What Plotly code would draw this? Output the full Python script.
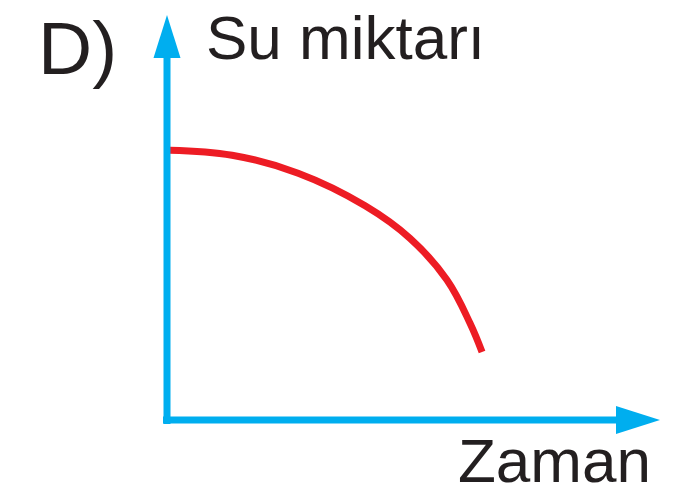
import plotly.graph_objects as go

# water amount over time (arbitrary units)
zaman = [0.09, 2.06, 4.15, 6.27, 7.69, 8.86, 9.59, 9.97]
su_miktari = [8.54, 8.38, 7.81, 6.78, 5.75, 4.43, 3.06, 2.15]

axis_labels = ["Su miktarı", "Zaman"]
panel_label = "D)"

BLUE = "#00aeef"
RED = "#ed1c24"
TEXT = "#231f20"
FONT = "Liberation Sans, Arial, sans-serif"

W, H = 674, 495
PX = 31.6                 # pixels per data unit
X0, Y0 = 167, 420         # pixel position of the origin

fig = go.Figure()

# red curve
fig.add_trace(go.Scatter(
    x=zaman, y=su_miktari,
    mode="lines",
    line=dict(color=RED, width=7, shape="spline", smoothing=1.1),
    hoverinfo="skip",
))

# axes with arrowheads
y_tip, y_base, y_half = (Y0 - 15) / PX, (Y0 - 58) / PX, 13.5 / PX
x_tip, x_base, x_half = (660 - X0) / PX, (616 - X0) / PX, 14 / PX
shapes = [
    dict(type="line", x0=0, x1=0, y0=-4 / PX, y1=y_base + 0.1,
         line=dict(color=BLUE, width=7)),
    dict(type="path",
         path=f"M {-y_half} {y_base} L {y_half} {y_base} L 0 {y_tip} Z",
         fillcolor=BLUE, line=dict(width=0)),
    dict(type="line", x0=-4 / PX, x1=x_base + 0.1, y0=0, y1=0,
         line=dict(color=BLUE, width=7)),
    dict(type="path",
         path=f"M {x_base} {-x_half} L {x_base} {x_half} L {x_tip} 0 Z",
         fillcolor=BLUE, line=dict(width=0)),
]


def label(text, px, py, size):
    # px = left edge, py = baseline, in screen pixels
    return dict(text=text, xref="paper", yref="paper",
                x=px / W, y=1 - (py + 0.22 * size) / H,
                xanchor="left", yanchor="bottom", showarrow=False,
                font=dict(family=FONT, size=size, color=TEXT))


annotations = [
    label(panel_label, 36, 76, 75),
    label(axis_labels[0], 204, 60, 62),
    label(axis_labels[1], 456, 483, 62),
]

fig.update_layout(
    width=W, height=H,
    margin=dict(l=0, r=0, t=0, b=0),
    paper_bgcolor="white", plot_bgcolor="white",
    showlegend=False,
    shapes=shapes,
    annotations=annotations,
    xaxis=dict(range=[-X0 / PX, (W - X0) / PX], visible=False, fixedrange=True),
    yaxis=dict(range=[(Y0 - H) / PX, Y0 / PX], visible=False, fixedrange=True),
)

fig.write_html("out.html", config={"displayModeBar": False},
               post_script="document.body.style.margin='0';document.body.style.overflow='hidden';")
